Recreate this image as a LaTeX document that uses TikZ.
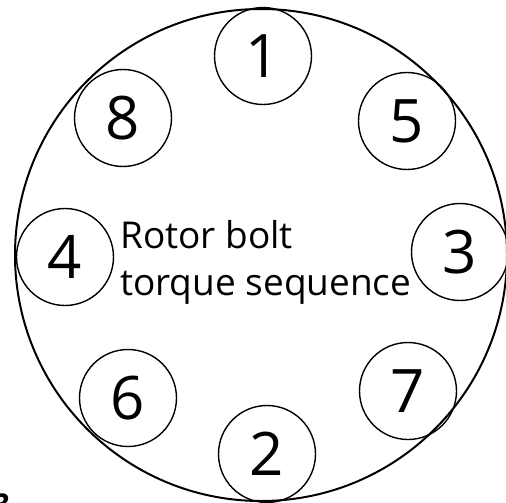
\documentclass[tikz,border=0pt]{standalone}
\usepackage{fontspec}
\setmainfont{Open Sans}
\begin{document}
\begin{tikzpicture}[x=1pt,y=-1pt,
  bolt/.style={circle,draw=black,line width=1.4pt,minimum size=97pt,inner sep=0pt,font=\fontsize{60}{62}\selectfont},
  lbl/.style={anchor=base west,inner sep=0pt,font=\fontsize{37}{39}\selectfont}]
\useasboundingbox (0,0) rectangle (506,503);
\begin{scope}
\clip (0,0) rectangle (506,503);
\node[draw=black,line width=2pt,circle,minimum size=492pt,inner sep=0pt] (rim) at (261,255) {};
\node[bolt] (b1) at (263,56) {1};
\node[bolt] (b2) at (267,454) {2};
\node[bolt] (b3) at (460,252) {3};
\node[bolt] (b4) at (65,257) {4};
\node[bolt] (b5) at (407,121) {5};
\node[bolt] (b6) at (128,398) {6};
\node[bolt] (b7) at (408,391) {7};
\node[bolt] (b8) at (123,118) {8};
\node[lbl] (t1) at (120,248) {Rotor bolt};
\node[lbl] (t2) at (120,295) {torque sequence};
\node[anchor=base west,inner sep=0pt,font=\fontsize{30}{30}\selectfont\bfseries\itshape] (fig) at (-8,515) {3};
\end{scope}
\end{tikzpicture}
\end{document}
